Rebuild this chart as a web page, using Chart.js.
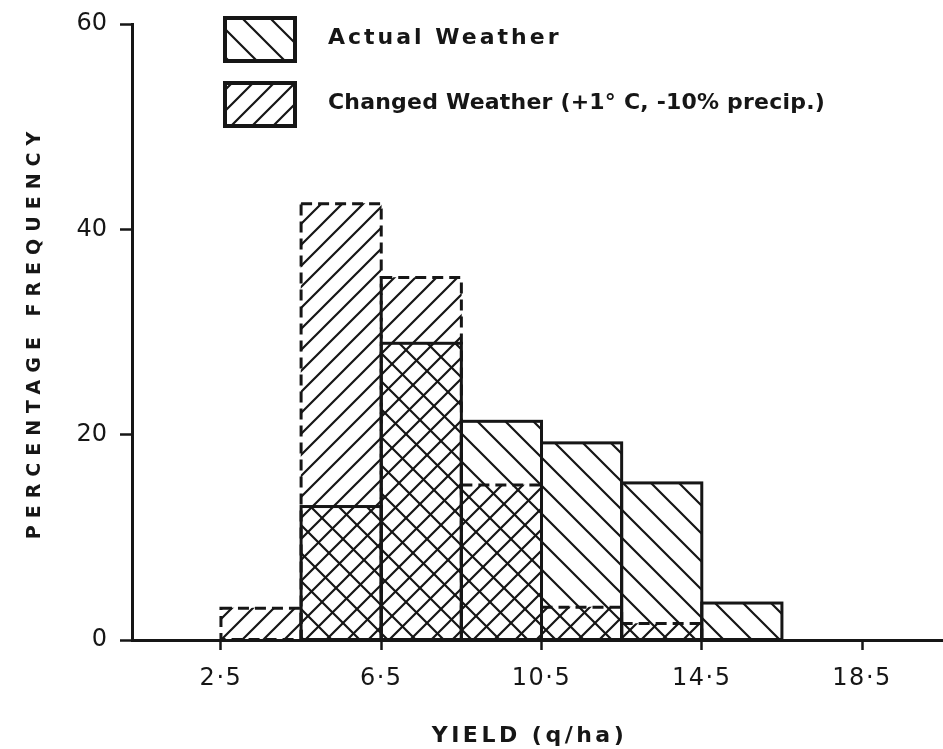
<!DOCTYPE html>
<html><head><meta charset="utf-8">
<script src="https://cdn.jsdelivr.net/npm/chart.js@4.4.1/dist/chart.umd.min.js"></script>
<style>html,body{margin:0;padding:0;background:#fff}#wrap{width:943px;height:749px;position:relative}</style>
</head><body><div id="wrap"><canvas id="c"></canvas></div>
<script>
// ---- data ----
const binCenters = [3.5, 5.5, 7.5, 9.5, 11.5, 13.5, 15.5];
const actualWeather = [null, 13.0, 28.9, 21.3, 19.2, 15.3, 3.6];
const changedWeather = [3.1, 42.5, 35.3, 15.1, 3.2, 1.6, null];
const xTickValues = [2.5, 6.5, 10.5, 14.5, 18.5];
const xTickLabels = ['2·5', '6·5', '10·5', '14·5', '18·5'];
const yTickValues = [0, 20, 40, 60];
const seriesLabels = ['Actual Weather', 'Changed Weather (+1° C, -10% precip.)'];

// ---- styles ----
const INK = '#161616';
const FONT = "'DejaVu Sans', sans-serif";
const textSpacing = { x: { title: 3.5, labels: 1.5, shift: -8 }, y: { title: 7, labels: 0, shift: 0 } };

function hatch(s, dir, lw) {
  const c = document.createElement('canvas');
  c.width = s; c.height = s;
  const g = c.getContext('2d');
  g.strokeStyle = INK; g.lineWidth = lw;
  g.beginPath();
  for (let k = -1; k <= 1; k++) {
    if (dir === '/') { g.moveTo(k * s - 2, s + 2); g.lineTo(k * s + s + 2, -2); }
    else { g.moveTo(k * s - 2, -2); g.lineTo(k * s + s + 2, s + 2); }
  }
  g.stroke();
  return g.createPattern(c, 'repeat');
}
const patActual = hatch(28, '\\', 2.2);
const patChanged = hatch(21, '/', 2.2);

const outlinePlugin = {
  id: 'outlines',
  afterDatasetsDraw(chart) {
    const ctx = chart.ctx;
    [1, 0].forEach(di => {
      const meta = chart.getDatasetMeta(di);
      const ds = chart.data.datasets[di];
      ctx.save();
      ctx.lineWidth = 3; ctx.strokeStyle = INK;
      ctx.setLineDash(di === 1 ? [11, 6] : []);
      meta.data.forEach((el, i) => {
        const v = ds.data[i];
        if (v === null || v === undefined) return;
        const p = el.getProps(['x', 'y', 'base', 'width'], true);
        ctx.strokeRect(p.x - p.width / 2, p.y, p.width, p.base - p.y);
      });
      ctx.restore();
    });
  }
};

const legendPlugin = {
  id: 'boxLegend',
  afterDraw(chart) {
    const ctx = chart.ctx;
    const spacing = [3, 0.2];
    chart.data.datasets.forEach((ds, i) => {
      const bx = 225, by = 18 + i * 65, bw = 70, bh = 43;
      ctx.save();
      ctx.fillStyle = ds.backgroundColor;
      ctx.fillRect(bx, by, bw, bh);
      ctx.lineWidth = 4; ctx.strokeStyle = INK;
      ctx.strokeRect(bx, by, bw, bh);
      ctx.font = "bold 22px " + FONT;
      ctx.letterSpacing = spacing[i] + 'px';
      ctx.fillStyle = INK;
      ctx.textBaseline = 'middle';
      ctx.textAlign = 'left';
      ctx.fillText(ds.label, 328, by + bh / 2 - 1);
      ctx.restore();
    });
  }
};

const spacingPlugin = {
  id: 'spacing',
  beforeDraw(chart) {
    Object.values(chart.scales).forEach(s => {
      if (s.$spaced) return;
      s.$spaced = true;
      const sp = textSpacing[s.id];
      const t = s.drawTitle, l = s.drawLabels;
      s.drawTitle = function (...a) {
        const ctx = this.ctx; ctx.save();
        ctx.letterSpacing = sp.title + 'px';
        ctx.translate(sp.shift, 0);
        t.apply(this, a); ctx.restore();
      };
      s.drawLabels = function (...a) {
        const ctx = this.ctx; ctx.save();
        ctx.letterSpacing = sp.labels + 'px';
        l.apply(this, a); ctx.restore();
      };
    });
  }
};

new Chart(document.getElementById('c'), {
  type: 'bar',
  data: {
    labels: binCenters,
    datasets: [
      { label: seriesLabels[0], data: actualWeather, backgroundColor: patActual, borderWidth: 0 },
      { label: seriesLabels[1], data: changedWeather, backgroundColor: patChanged, borderWidth: 0 }
    ]
  },
  options: {
    responsive: true,
    maintainAspectRatio: false,
    animation: false,
    events: [],
    datasets: { bar: { grouped: false, barPercentage: 1, categoryPercentage: 1 } },
    layout: { padding: { top: 24, right: 0, bottom: 0, left: 0 } },
    plugins: { legend: { display: false }, tooltip: { enabled: false } },
    scales: {
      x: {
        type: 'linear', min: 0.28, max: 20.52, offset: false,
        afterBuildTicks: s => { s.ticks = xTickValues.map(v => ({ value: v })); },
        afterFit: s => { s.height = 109; s.paddingLeft = 0; s.paddingRight = 0; },
        border: { display: true, color: INK, width: 3 },
        grid: { offset: false, drawOnChartArea: false, drawTicks: true, tickLength: 10, tickColor: INK, tickWidth: 2.5 },
        ticks: { callback: (v, i) => xTickLabels[i], color: INK, font: { family: FONT, size: 24 }, padding: 14, maxRotation: 0, autoSkip: false },
        title: { display: true, text: 'YIELD (q/ha)', color: INK, font: { family: FONT, size: 22, weight: 'bold' }, padding: { top: 0, bottom: 0 } }
      },
      y: {
        min: 0, max: 60,
        afterBuildTicks: s => { s.ticks = yTickValues.map(v => ({ value: v })); },
        afterFit: s => { s.width = 132; s.paddingTop = 0; s.paddingBottom = 0; },
        border: { display: true, color: INK, width: 3 },
        grid: { drawOnChartArea: false, drawTicks: true, tickLength: 12, tickColor: INK, tickWidth: 2.5 },
        ticks: { color: INK, font: { family: FONT, size: 24 }, padding: 13 },
        title: { display: true, text: 'PERCENTAGE FREQUENCY', color: INK, font: { family: FONT, size: 19, weight: 'bold' }, padding: { top: 24, bottom: 0 } }
      }
    }
  },
  plugins: [spacingPlugin, outlinePlugin, legendPlugin]
});
</script>
</body></html>
